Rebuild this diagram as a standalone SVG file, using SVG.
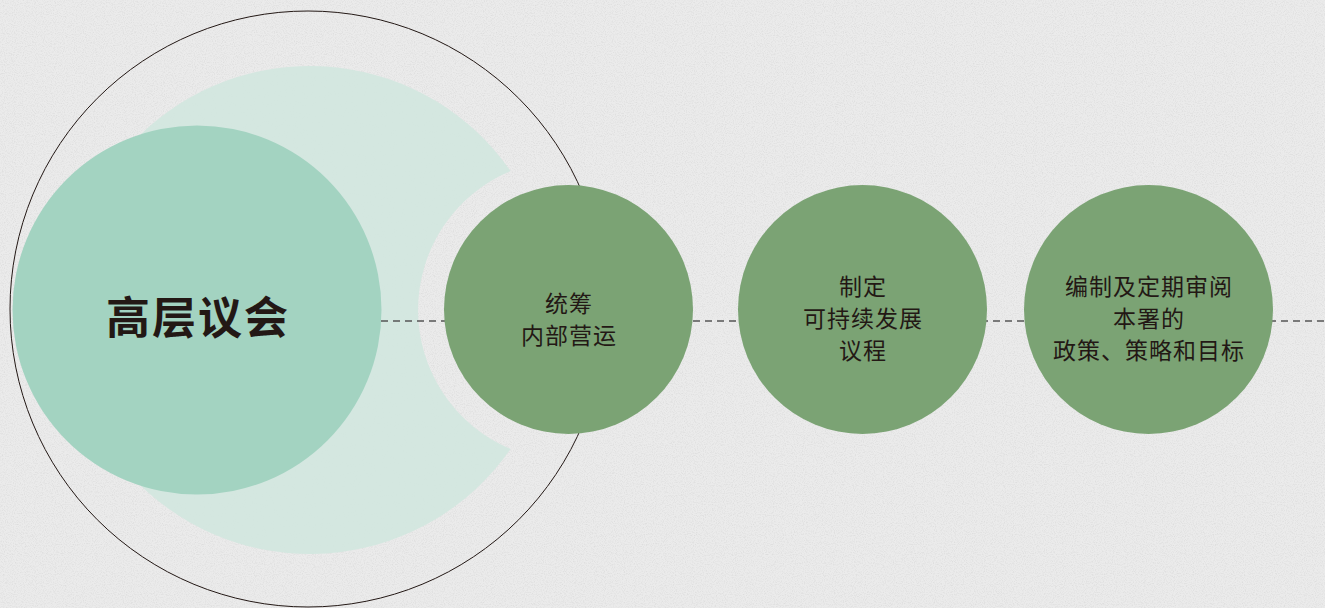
<svg xmlns="http://www.w3.org/2000/svg" width="1325" height="608" viewBox="0 0 1325 608">
  <defs>
    <filter id="grain" x="0" y="0" width="100%" height="100%">
      <feTurbulence type="fractalNoise" baseFrequency="0.9" numOctaves="2" seed="3" result="n"/>
      <feColorMatrix type="matrix" values="0 0 0 0 0.55  0 0 0 0 0.55  0 0 0 0 0.55  0 0 0 -2.2 1.25" in="n"/>
    </filter>
    <style>
      .node { fill: #7ba374; }
      .lbl { font-family: "Noto Sans CJK SC", "Noto Sans", sans-serif; font-size: 23px; fill: #231815; text-anchor: middle; letter-spacing: 1px; }
      .main { font-family: "Noto Sans CJK SC", "Noto Sans", sans-serif; font-size: 44px; font-weight: bold; fill: #231815; text-anchor: middle; letter-spacing: 2px; }
      .conn { stroke: #555555; stroke-width: 1.5; stroke-dasharray: 7 5; fill: none; }
    </style>
  </defs>
  <rect width="1325" height="608" fill="#ebebeb"/>
  <rect width="1325" height="608" filter="url(#grain)" opacity="0.35"/>

  <g id="decor">
    <circle cx="308" cy="309" r="298" fill="none" stroke="#231815" stroke-width="1"/>
    <path d="M 510.6 171.1 A 244 244 0 1 0 510.6 448.9 A 150.5 150.5 0 0 1 510.6 171.1 Z" fill="#d2e7df" opacity="0.9"/>
  </g>

  <g id="connectors">
    <line class="conn" x1="381" y1="321" x2="1325" y2="321"/>
  </g>

  <g id="node-council">
    <circle cx="197" cy="310" r="184.5" fill="#a3d3c1"/>
    <text class="main" x="198" y="334">高层议会</text>
  </g>

  <g id="node-operations">
    <circle class="node" cx="568.5" cy="309.5" r="124.5"/>
    <text class="lbl" x="569" y="311.5">统筹</text>
    <text class="lbl" x="569" y="343.5">内部营运</text>
  </g>

  <g id="node-sustainability">
    <circle class="node" cx="862.5" cy="309.5" r="124.5"/>
    <text class="lbl" x="863" y="295">制定</text>
    <text class="lbl" x="863" y="327">可持续发展</text>
    <text class="lbl" x="863" y="359">议程</text>
  </g>

  <g id="node-policy">
    <circle class="node" cx="1148.5" cy="309.5" r="124.5"/>
    <text class="lbl" x="1149" y="295">编制及定期审阅</text>
    <text class="lbl" x="1149" y="327">本署的</text>
    <text class="lbl" x="1149" y="359">政策、策略和目标</text>
  </g>
</svg>
